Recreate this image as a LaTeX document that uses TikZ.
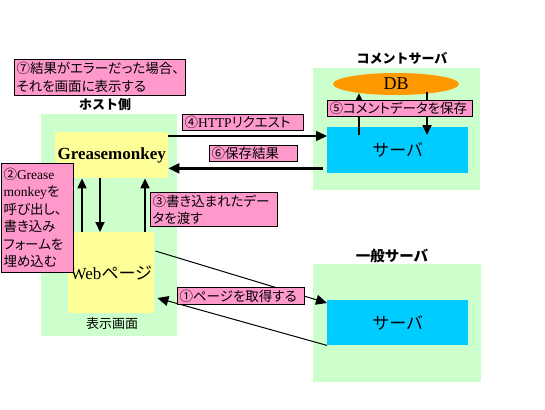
\documentclass[tikz,border=0pt]{standalone}
\usepackage{fontspec}
\setmainfont{Liberation Serif}
\newfontfamily\jp[RawFeature=+palt]{Noto Sans CJK JP}
\newfontfamily\jpm{Noto Sans CJK JP}
\usetikzlibrary{arrows.meta,calc,shapes.geometric}
\definecolor{bggreen}{HTML}{CCFFCC}
\definecolor{gmyellow}{HTML}{FFFF99}
\definecolor{srvblue}{HTML}{00CCFF}
\definecolor{dborange}{HTML}{FF9900}
\definecolor{lblpink}{HTML}{FF99CC}
\tikzset{
  area/.style={fill=bggreen, draw=none, anchor=north west, inner sep=0pt},
  ybox/.style={fill=gmyellow, draw=none, anchor=north west, inner sep=0pt},
  sbox/.style={fill=srvblue, draw=none, anchor=north west, inner sep=0pt,
    font=\jpm\fontsize{17}{20}\selectfont},
  lbl/.style={fill=lblpink, draw=black, line width=1pt, anchor=north west,
    inner sep=2pt, align=left, font=\jp\fontsize{13.5}{17.5}\selectfont},
  ttl/.style={font=\jpm\bfseries\fontsize{13}{15}\selectfont, inner sep=0pt},
  thick arrow/.style={line width=2pt, -{Triangle[length=10pt,width=9pt]}},
  mid arrow/.style={line width=1.4pt, -{Triangle[length=11pt,width=10pt]}},
  thin arrow/.style={line width=1pt, -{Triangle[length=11pt,width=10pt]}},
}
\newcommand{\lat}[1]{{\rmfamily #1}}
\begin{document}
\begin{tikzpicture}[x=1pt,y=-1pt]
\useasboundingbox[fill=white] (0,0) rectangle (545,409);

% background areas
\node[area, minimum width=136, minimum height=222] (host) at (41,114) {};
\node[area, minimum width=167, minimum height=122] (carea) at (313,68) {};
\node[area, minimum width=168, minimum height=118] (garea) at (313,264) {};

% titles
\node[ttl] (thost) at (105,105) {ホスト側};
\node[ttl] (tcomm) at (402,58) {コメントサーバ};
\node[ttl, font=\jpm\bfseries\fontsize{14.5}{16}\selectfont] (tgen) at (392,256) {一般サーバ};
\node[font=\jp\fontsize{13}{15}\selectfont, inner sep=0pt] (tdisp) at (112,324) {表示画面};

% host boxes
\node[ybox, minimum width=113, minimum height=46,
  font=\bfseries\fontsize{17}{20}\selectfont] (gm) at (55,132) {Greasemonkey};
\node[ybox, minimum width=86, minimum height=81,
  font=\fontsize{17}{20}\selectfont] (web) at (68,232) {Web{\jp ページ}};

% servers
\node[sbox, minimum width=141, minimum height=46] (csrv) at (327,127) {サーバ};
\node[sbox, minimum width=141, minimum height=45] (gsrv) at (327,300) {サーバ};
\node[ellipse, fill=dborange, draw=none, minimum width=126, minimum height=22,
  inner sep=0pt, font=\fontsize{18}{20}\selectfont] (db) at (396,84) {DB};

% arrows host
\draw[thick arrow] ($(web.north west)+(14,0)$) -- ($(gm.south west)+(27,0)$);
\draw[thick arrow] ($(gm.south west)+(45,0)$) -- ($(web.north west)+(32,0)$);
\draw[thick arrow] ($(web.north west)+(77,0)$) -- ($(gm.south west)+(90,0)$);

% HTTP
\draw[mid arrow] ($(gm.north east)+(0,4)$) -- ($(csrv.north west)+(0,9)$);
\draw[line width=2.6pt, -{Triangle[length=11pt,width=10pt]}]
  ($(csrv.south west)+(-4,-5)$) -- ($(gm.south east)+(0,-10)$);

% DB arrows
\draw[thick arrow] ($(csrv.north west)+(32,8)$) -- ($(db.south)+(-37,-2)$);
\draw[thick arrow] ($(db.south)+(31,-3)$) -- ($(csrv.north west)+(100,8)$);

% page get
\draw[thin arrow] ($(web.north east)+(1,19)$) -- ($(gsrv.north west)+(0,3)$);
\draw[thin arrow] (gsrv.south west) -- ($(web.north east)+(3,66)$);

% labels
\node[lbl, minimum width=171, minimum height=36, text width=167] (l7) at (14,59)
  {⑦結果がエラーだった場合、\\それを画面に表示する};
\node[lbl, minimum width=72, minimum height=109, text width=68] (l2) at (1,163)
  {②\lat{Grease}\\\lat{monkey}を\\呼び出し、\\書き込み\\フォームを\\埋め込む};
\node[lbl, minimum width=127, minimum height=34, text width=123] (l3) at (150,192)
  {③書き込まれたデー\\タを渡す};
\node[lbl, minimum width=121, minimum height=16, text width=117, inner ysep=0pt] (l4) at (182,114)
  {④\lat{HTTP}リクエスト};
\node[lbl, minimum width=88, minimum height=16, text width=84, inner ysep=0pt] (l6) at (209,145)
  {⑥保存結果};
\node[lbl, minimum width=145, minimum height=16, text width=141, inner ysep=0pt] (l5) at (327,100)
  {⑤コメントデータを保存};
\node[lbl, minimum width=127, minimum height=17, text width=123, inner ysep=0pt] (l1) at (177,287)
  {①ページを取得する};
\end{tikzpicture}
\end{document}
